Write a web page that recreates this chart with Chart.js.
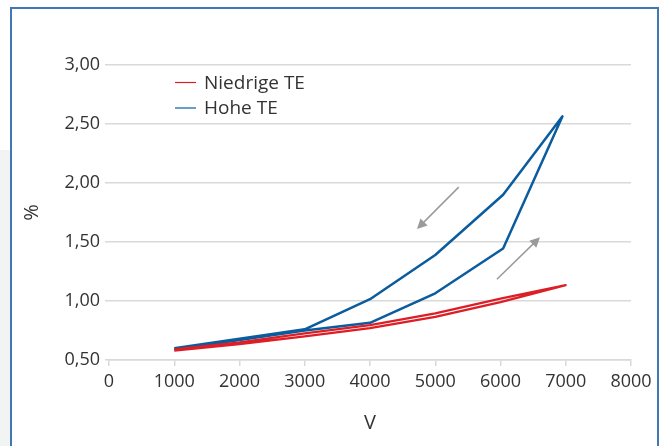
<!DOCTYPE html>
<html>
<head>
<meta charset="utf-8">
<script src="https://cdn.jsdelivr.net/npm/chart.js@4.4.1/dist/chart.umd.min.js"></script>
<style>
  html, body { margin: 0; padding: 0; background: #fff; }
  #wrap { position: relative; width: 659px; height: 446px; overflow: hidden; }
  #strip { position: absolute; left: 0; top: 150px; width: 11px; height: 296px; background: #f2f3f3; }
  #frame { position: absolute; left: 10px; top: 7px; width: 645px; height: 460px; border: 2px solid #3f78b4; }
  #plot { position: absolute; left: 0; top: 0; }
</style>
</head>
<body>
<div id="wrap">
  <div id="strip"></div>
  <div id="frame"></div>
  <canvas id="plot" width="659" height="446"></canvas>
</div>
<script>
// ---- data ----
const voltLow = [1000, 2000, 3000, 4000, 5000, 6000, 7000, 6000, 5000, 4000, 3000, 2000, 1000];
const niedrigeTE = [0.58, 0.635, 0.70, 0.77, 0.865, 0.99, 1.135, 1.02, 0.895, 0.795, 0.725, 0.65, 0.59];

const voltHigh = [1000, 2000, 3000, 4000, 5000, 6040, 6950, 6040, 5000, 4000, 3000, 2000, 1000];
const hoheTE = [0.59, 0.67, 0.75, 0.815, 1.065, 1.445, 2.565, 1.90, 1.39, 1.015, 0.76, 0.68, 0.60];

// hysteresis direction arrows: [fromV, fromPct, toV, toPct]
const arrowDown = [5360, 1.965, 4720, 1.61];
const arrowUp = [5945, 1.185, 6605, 1.54];

const yTicks = [0.5, 1.0, 1.5, 2.0, 2.5, 3.0];
const xTicks = [0, 1000, 2000, 3000, 4000, 5000, 6000, 7000, 8000];

const RED = "#dc1f26";
const BLUE = "#0a5c9e";
const TXT = "#333333";
const GRID = "#d9d9d9";
const FONT = "'Open Sans', 'Noto Sans', sans-serif";

function pairs(xs, ys) {
  return xs.map((x, i) => ({ x: x, y: ys[i] }));
}

//------------------------------------------------------
// custom drawing: arrows + legend inside the plot
//------------------------------------------------------
const extras = {
  id: "extras",
  afterDatasetsDraw(chart) {
    const { ctx, scales: { x, y } } = chart;

    function arrow(a) {
      const x0 = x.getPixelForValue(a[0]), y0 = y.getPixelForValue(a[1]);
      const x1 = x.getPixelForValue(a[2]), y1 = y.getPixelForValue(a[3]);
      const ang = Math.atan2(y1 - y0, x1 - x0);
      const head = 10, half = 5;
      ctx.save();
      ctx.strokeStyle = "#9a9a9a";
      ctx.fillStyle = "#9a9a9a";
      ctx.lineWidth = 1.5;
      ctx.beginPath();
      ctx.moveTo(x0, y0);
      ctx.lineTo(x1 - Math.cos(ang) * head * 0.8, y1 - Math.sin(ang) * head * 0.8);
      ctx.stroke();
      ctx.beginPath();
      ctx.moveTo(x1, y1);
      ctx.lineTo(x1 - Math.cos(ang) * head - Math.sin(ang) * half, y1 - Math.sin(ang) * head + Math.cos(ang) * half);
      ctx.lineTo(x1 - Math.cos(ang) * head + Math.sin(ang) * half, y1 - Math.sin(ang) * head - Math.cos(ang) * half);
      ctx.closePath();
      ctx.fill();
      ctx.restore();
    }
    arrow(arrowDown);
    arrow(arrowUp);

    // legend
    ctx.save();
    ctx.font = "19px " + FONT;
    ctx.textBaseline = "middle";
    chart.data.datasets.forEach((ds, i) => {
      const ly = 82.5 + i * 25.5;
      ctx.strokeStyle = ds.borderColor;
      ctx.lineWidth = 1.2;
      ctx.beginPath();
      ctx.moveTo(175, ly);
      ctx.lineTo(196, ly);
      ctx.stroke();
      ctx.fillStyle = TXT;
      ctx.fillText(ds.label, 204, ly + 1);
    });
    ctx.restore();
  },
};

new Chart(document.getElementById("plot"), {
  type: "line",
  data: {
    datasets: [
      {
        label: "Niedrige TE",
        data: pairs(voltLow, niedrigeTE),
        borderColor: RED,
        borderWidth: 2.2,
        borderJoinStyle: "round",
        pointRadius: 0,
        tension: 0,
      },
      {
        label: "Hohe TE",
        data: pairs(voltHigh, hoheTE),
        borderColor: BLUE,
        borderWidth: 2.5,
        borderJoinStyle: "round",
        pointRadius: 0,
        tension: 0,
      },
    ],
  },
  options: {
    responsive: false,
    animation: false,
    layout: { padding: { left: 0, right: 28, top: 65, bottom: 0 } },
    plugins: {
      legend: { display: false },
      tooltip: { enabled: false },
    },
    scales: {
      x: {
        type: "linear",
        min: 0,
        max: 8000,
        afterBuildTicks: (s) => { s.ticks = xTicks.map((v) => ({ value: v })); },
        afterFit: (s) => { s.height = 86; },
        ticks: {
          color: TXT,
          font: { family: FONT, size: 18 },
          padding: 5,
          maxRotation: 0,
          callback: (v) => String(v),
        },
        grid: { drawOnChartArea: false, color: GRID, tickLength: 6, lineWidth: 1.5 },
        border: { color: GRID, width: 1.5 },
        title: {
          display: true,
          text: "V",
          color: TXT,
          font: { family: FONT, size: 20 },
          padding: { top: 0, bottom: 11 },
        },
      },
      y: {
        type: "linear",
        min: 0.5,
        max: 3.0,
        afterBuildTicks: (s) => { s.ticks = yTicks.map((v) => ({ value: v })); },
        afterFit: (s) => { s.width = 109; },
        ticks: {
          color: TXT,
          font: { family: FONT, size: 18 },
          padding: 5,
          callback: (v) => v.toFixed(2).replace(".", ","),
        },
        grid: { color: GRID, tickLength: 4, lineWidth: 1.5 },
        border: { display: false },
        title: {
          display: true,
          text: "%",
          color: TXT,
          font: { family: FONT, size: 20 },
          padding: { top: 20, bottom: 0 },
        },
      },
    },
  },
  plugins: [extras],
});
</script>
</body>
</html>
